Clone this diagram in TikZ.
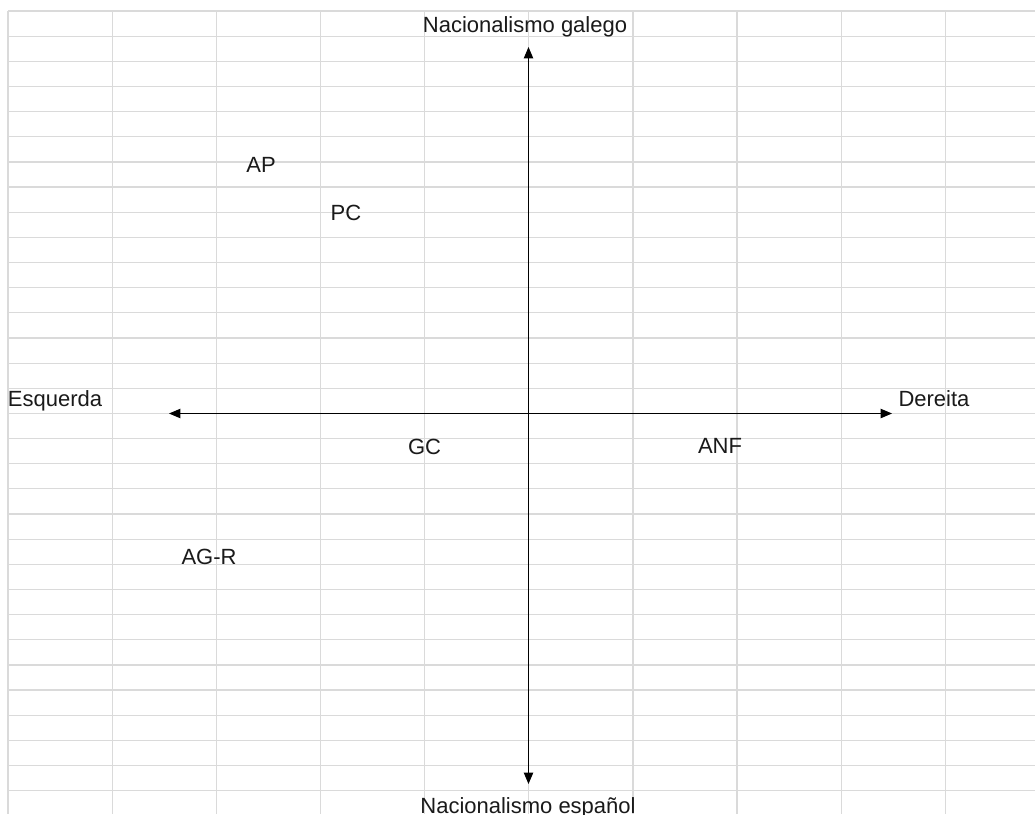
\documentclass[tikz,border=0pt]{standalone}
\usepackage{fontspec}
\setmainfont{Liberation Sans}
\usetikzlibrary{arrows.meta}
\definecolor{gridgray}{HTML}{DADADA}
\definecolor{txt}{HTML}{1A1A1A}
\begin{document}
\begin{tikzpicture}[x=0.75pt,y=-0.75pt,
  gridline/.style={draw=gridgray,line width=0.9pt},
  axis/.style={draw=black,line width=0.8pt,{Triangle[length=8.5pt,width=7pt]}-{Triangle[length=8.5pt,width=7pt]}},
  lbl/.style={anchor=base,inner sep=0pt,text=txt,font=\fontsize{16.5pt}{19pt}\selectfont}]
\useasboundingbox (0,0) rectangle (1035,814);
\clip (0,0) rectangle (1035,814);
\fill[white] (0,0) rectangle (1035,814);
% grid
\foreach \k in {0,...,32}{
  \draw[gridline] (8,{11+25.15*\k}) -- (1035,{11+25.15*\k});
}
\foreach \j in {0,...,9}{
  \draw[gridline] ({8+104.15*\j},11) -- ({8+104.15*\j},814);
}
% axes
\coordinate (top) at (528.5,47);
\coordinate (bot) at (528.5,784);
\coordinate (left) at (169,413.5);
\coordinate (right) at (892,413.5);
\draw[axis] (bot) -- (top);
\draw[axis] (left) -- (right);
% labels
\node[lbl] (galego) at (525,32.5) {Nacionalismo galego};
\node[lbl] (espanol) at (528,813) {Nacionalismo español};
\node[lbl] (esq) at (55,406.5) {Esquerda};
\node[lbl] (der) at (934,406) {Dereita};
\node[lbl] (ap) at (261,172.7) {AP};
\node[lbl] (pc) at (346,220) {PC};
\node[lbl] (gc) at (424.5,454) {GC};
\node[lbl] (anf) at (720,453) {ANF};
\node[lbl] (agr) at (209,564) {AG-R};
\end{tikzpicture}
\end{document}
